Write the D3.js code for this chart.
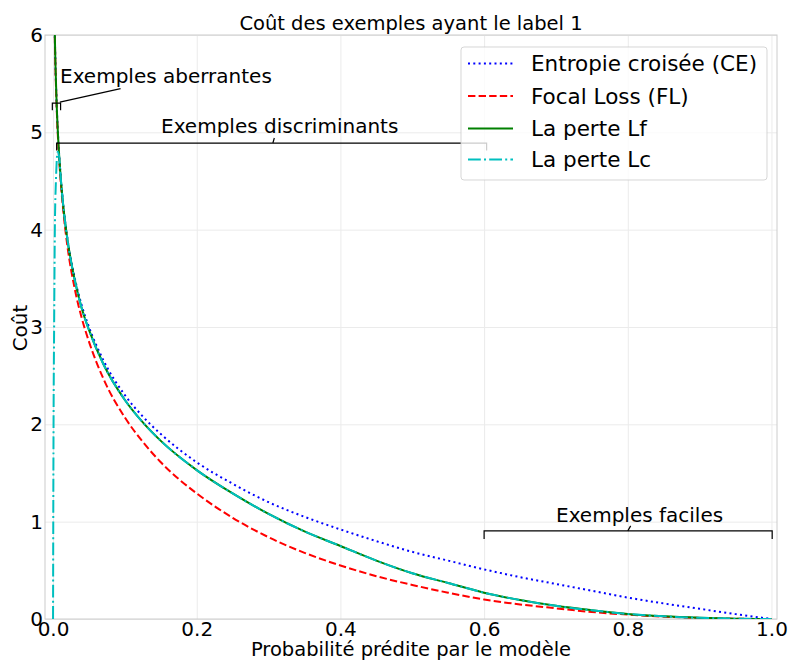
<!DOCTYPE html>
<html>
<head>
<meta charset="utf-8">
<script src="https://cdn.jsdelivr.net/npm/d3@7"></script>
<style>
  body { margin: 0; background: #fff; }
  text { font-family: "DejaVu Sans", sans-serif; fill: #000; }
</style>
</head>
<body>
<div id="chartDiv"></div>
<script>
// chart data
var probs = [0.002, 0.0025, 0.005, 0.0075, 0.01, 0.015, 0.02, 0.03, 0.04, 0.05, 0.07, 0.1, 0.125, 0.15,
             0.2, 0.25, 0.3, 0.35, 0.4, 0.45, 0.5, 0.55, 0.6, 0.65, 0.7, 0.75, 0.8, 0.85, 0.9, 0.95, 1.0];
var ceValues = [6.21, 5.99, 5.30, 4.89, 4.61, 4.20, 3.91, 3.51, 3.22, 3.00, 2.66, 2.30, 2.08, 1.90,
                1.61, 1.39, 1.20, 1.05, 0.92, 0.80, 0.69, 0.60, 0.51, 0.43, 0.36, 0.29, 0.22, 0.16, 0.105, 0.05, 0];
var flValues = [6.20, 5.97, 5.27, 4.85, 4.56, 4.14, 3.83, 3.40, 3.09, 2.85, 2.47, 2.07, 1.82, 1.61,
                1.29, 1.04, 0.84, 0.68, 0.55, 0.44, 0.35, 0.27, 0.20, 0.15, 0.11, 0.072, 0.045, 0.024, 0.011, 0.0026, 0];
var lfValues = [6.21, 5.99, 5.30, 4.89, 4.60, 4.19, 3.90, 3.49, 3.19, 2.97, 2.62, 2.25, 2.02, 1.83,
                1.53, 1.29, 1.08, 0.90, 0.75, 0.60, 0.47, 0.37, 0.27, 0.195, 0.135, 0.09, 0.052, 0.027, 0.012, 0.003, 0];
// Lc drops to 0 near p = 0
var lcProbs = [0, 0.0003, 0.0007, 0.0015, 0.0025, 0.004, 0.0065, 0.0085, 0.01, 0.015, 0.02, 0.03, 0.04, 0.05, 0.07,
               0.1, 0.125, 0.15, 0.2, 0.25, 0.3, 0.35, 0.4, 0.45, 0.5, 0.55, 0.6, 0.65, 0.7, 0.75, 0.8, 0.85, 0.9, 0.95, 1.0];
var lcValues = [0, 1.0, 2.0, 3.0, 4.0, 4.5, 4.8, 4.75, 4.60, 4.19, 3.90, 3.49, 3.19, 2.97, 2.62,
                2.25, 2.02, 1.83, 1.53, 1.29, 1.08, 0.90, 0.75, 0.60, 0.47, 0.37, 0.27, 0.195, 0.135, 0.09, 0.052, 0.027, 0.012, 0.003, 0];

var seriesNames = ["Entropie croisée (CE)", "Focal Loss (FL)", "La perte Lf", "La perte Lc"];
var xTicks = [0, 0.2, 0.4, 0.6, 0.8, 1.0];
var yTicks = [0, 1, 2, 3, 4, 5, 6];

function buildChart() {
    var width = 789;
    var height = 661;
    var left = 45, right = 777, top = 35, bottom = 619;

    var xScale = d3.scaleLinear()
                   .domain([-0.0112, 1.0077])
                   .range([left, right]);
    var yScale = d3.scaleLinear()
                   .domain([0, 6])
                   .range([bottom, top]);

    var svg = d3.select("#chartDiv")
                .append("svg")
                .attr("width", width)
                .attr("height", height);

    svg.append("clipPath").attr("id", "plotClip")
       .append("rect")
       .attr("x", left).attr("y", top)
       .attr("width", right - left).attr("height", bottom - top);

    // grid
    svg.append("g")
       .attr("transform", "translate(0," + bottom + ")")
       .call(d3.axisBottom(xScale).tickValues(xTicks).tickSize(-(bottom - top)).tickFormat(""))
       .call(function(g) { g.select(".domain").remove(); })
       .selectAll("line").attr("stroke", "#ebebeb");
    svg.append("g")
       .attr("transform", "translate(" + left + ",0)")
       .call(d3.axisLeft(yScale).tickValues(yTicks).tickSize(-(right - left)).tickFormat(""))
       .call(function(g) { g.select(".domain").remove(); })
       .selectAll("line").attr("stroke", "#ebebeb");

    // spines
    svg.append("rect")
       .attr("x", left).attr("y", top)
       .attr("width", right - left).attr("height", bottom - top)
       .attr("fill", "none")
       .attr("stroke", "#cccccc");

    // tick labels
    var xAxis = svg.append("g")
       .attr("transform", "translate(0," + bottom + ")")
       .call(d3.axisBottom(xScale).tickValues(xTicks).tickSize(0).tickPadding(3).tickFormat(d3.format(".1f")));
    xAxis.select(".domain").remove();
    xAxis.selectAll("text").attr("font-size", 20).attr("font-family", "DejaVu Sans");

    var yAxis = svg.append("g")
       .attr("transform", "translate(" + left + ",0)")
       .call(d3.axisLeft(yScale).tickValues(yTicks).tickSize(0).tickPadding(2).tickFormat(d3.format("d")));
    yAxis.select(".domain").remove();
    yAxis.selectAll("text").attr("font-size", 20).attr("font-family", "DejaVu Sans");

    // curves
    var series = [
        { name: seriesNames[0], xs: probs, ys: ceValues, color: "#0000ff", dash: "2,3.3" },
        { name: seriesNames[1], xs: probs, ys: flValues, color: "#ff0000", dash: "7.4,3.2" },
        { name: seriesNames[2], xs: probs, ys: lfValues, color: "#008000", dash: null },
        { name: seriesNames[3], xs: lcProbs, ys: lcValues, color: "#00bfbf", dash: "12.8,3.2,2,3.2" }
    ];

    var line = d3.line()
                 .x(function(d) { return xScale(d[0]); })
                 .y(function(d) { return yScale(d[1]); })
                 .curve(d3.curveMonotoneX);

    var plot = svg.append("g").attr("clip-path", "url(#plotClip)");
    series.forEach(function(s) {
        var pts = s.xs.map(function(x, i) { return [x, s.ys[i]]; });
        plot.append("path")
            .datum(pts)
            .attr("d", line)
            .attr("fill", "none")
            .attr("stroke", s.color)
            .attr("stroke-width", 2)
            .attr("stroke-dasharray", s.dash);
    });

    // annotations (brackets)
    var ann = svg.append("g").attr("stroke", "#000").attr("stroke-width", 1.2).attr("fill", "none");
    function bracket(x0, x1, y, tick) {
        ann.append("path")
           .attr("d", "M" + x0 + "," + (y + tick) + "V" + y + "H" + x1 + "V" + (y + tick));
    }
    // aberrantes
    var ya = yScale(5.3);
    bracket(xScale(-0.001), xScale(0.0105), ya, 7);
    ann.append("line")
       .attr("x1", xScale(0.0095)).attr("y1", ya - 1)
       .attr("x2", xScale(0.094)).attr("y2", ya - 14.5);
    // discriminants
    var yd = yScale(4.89);
    bracket(xScale(0.005), xScale(0.6035), yd, 7.5);
    ann.append("line")
       .attr("x1", xScale(0.306)).attr("y1", yd)
       .attr("x2", xScale(0.308)).attr("y2", yd - 5);
    // faciles
    var yf = yScale(0.905);
    bracket(xScale(0.6), xScale(1.001), yf, 8);
    ann.append("line")
       .attr("x1", xScale(0.8)).attr("y1", yf)
       .attr("x2", xScale(0.804)).attr("y2", yf - 5);

    svg.append("text").attr("x", 60).attr("y", 83).attr("font-size", 20).text("Exemples aberrantes");
    svg.append("text").attr("x", 161).attr("y", 133).attr("font-size", 20).text("Exemples discriminants");
    svg.append("text").attr("x", 556).attr("y", 522).attr("font-size", 20).text("Exemples faciles");

    // legend
    var lg = svg.append("g");
    lg.append("rect")
      .attr("x", 461).attr("y", 47)
      .attr("width", 306).attr("height", 133)
      .attr("rx", 3)
      .attr("fill", "#ffffff").attr("fill-opacity", 0.8)
      .attr("stroke", "#cccccc").attr("stroke-opacity", 0.8);
    var rowY = [63.5, 96, 128.5, 159.5];
    series.forEach(function(s, i) {
        lg.append("line")
          .attr("x1", 468).attr("x2", 513)
          .attr("y1", rowY[i]).attr("y2", rowY[i])
          .attr("stroke", s.color)
          .attr("stroke-width", 2)
          .attr("stroke-dasharray", s.dash);
        lg.append("text")
          .attr("x", 531).attr("y", rowY[i] + 7.5)
          .attr("font-size", 21.5)
          .text(s.name);
    });

    // titles
    svg.append("text").attr("x", (left + right) / 2).attr("y", 30)
       .attr("text-anchor", "middle").attr("font-size", 19.5)
       .text("Coût des exemples ayant le label 1");
    svg.append("text").attr("x", (left + right) / 2).attr("y", 656)
       .attr("text-anchor", "middle").attr("font-size", 19.5)
       .text("Probabilité prédite par le modèle");
    svg.append("text")
       .attr("transform", "translate(27," + ((top + bottom) / 2 + 1) + ") rotate(-90)")
       .attr("text-anchor", "middle").attr("font-size", 20)
       .text("Coût");
}
buildChart();
</script>
</body>
</html>
